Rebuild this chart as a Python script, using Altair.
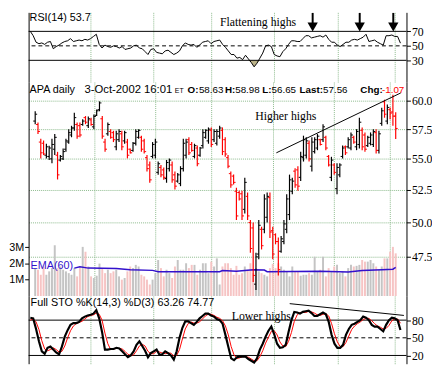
import altair as alt
import pandas as pd

# ---------------- data ----------------
high = [59.06, 58.07, 56.67, 56.53, 56.26, 56.10, 56.67, 57.08, 55.58, 55.31,
        55.85, 56.67, 57.50, 57.79, 58.92, 58.07, 58.07, 58.35, 58.64, 58.60,
        58.49, 58.78, 59.21, 59.94, 58.64, 56.67, 58.07, 57.50, 57.36, 57.36,
        57.50, 57.36, 57.36, 56.67, 55.85, 56.40, 57.50, 57.50, 56.94, 56.67,
        55.31, 54.78, 56.40, 56.67, 54.78, 54.50, 54.30, 54.91, 55.04, 54.78,
        53.98, 53.85, 54.40, 56.67, 56.67, 56.81, 56.40, 56.26, 56.12, 55.99,
        57.50, 57.50, 57.65, 57.65, 57.50, 57.50, 57.79, 57.65, 56.81, 55.31,
        53.98, 53.72, 52.68, 52.43, 52.43, 53.46, 52.30, 50.19, 50.00, 47.80,
        50.19, 49.69, 52.17, 52.30, 52.30, 49.69, 49.20, 48.90, 49.00, 50.19,
        52.17, 53.72, 53.46, 54.24, 54.40, 55.58, 56.94, 56.81, 56.53, 56.81,
        56.81, 57.08, 56.67, 57.93, 56.94, 55.31, 55.17, 54.64, 54.64, 54.64,
        56.12, 56.12, 56.81, 57.22, 56.94, 57.50, 58.49, 57.65, 57.22, 56.94,
        57.22, 57.50, 57.50, 57.36, 59.36, 60.09, 59.65, 59.40, 60.53, 58.98]
low = [57.93, 57.08, 55.04, 55.31, 55.04, 54.90, 54.64, 55.31, 53.33, 54.78,
       54.91, 55.58, 56.26, 56.81, 57.36, 56.67, 56.81, 57.79, 57.93, 57.60,
       57.79, 57.50, 58.64, 59.06, 56.67, 55.58, 56.94, 56.67, 56.40, 55.72,
       56.40, 55.72, 56.26, 55.04, 55.44, 55.58, 56.12, 56.67, 55.58, 55.44,
       53.98, 53.07, 55.04, 55.04, 53.70, 53.50, 53.30, 53.07, 53.98, 53.07,
       52.53, 53.07, 52.80, 53.98, 55.04, 55.31, 55.58, 55.04, 54.40, 55.17,
       55.85, 56.67, 56.26, 55.99, 56.40, 56.12, 56.67, 55.31, 55.17, 54.24,
       52.68, 52.94, 50.19, 51.67, 50.19, 50.68, 50.19, 47.80, 45.75, 45.20,
       47.33, 48.03, 49.21, 50.00, 48.86, 47.33, 48.40, 46.20, 47.80, 48.40,
       49.21, 50.19, 52.17, 52.68, 52.43, 53.20, 54.78, 55.04, 54.78, 53.98,
       55.44, 55.72, 56.12, 56.40, 55.72, 54.37, 53.20, 53.70, 52.17, 53.50,
       55.04, 55.31, 55.85, 55.72, 56.26, 55.72, 55.85, 55.72, 55.58, 55.99,
       56.12, 55.99, 55.44, 55.44, 57.79, 58.49, 57.93, 58.35, 57.79, 56.65]
open_ = [58.2, 57.9, 56.4, 56.3, 55.3, 55.2, 55.0, 55.8, 55.3, 54.9,
         55.0, 55.8, 56.4, 57.0, 57.6, 57.9, 57.8, 57.9, 58.5, 57.8,
         58.3, 57.7, 58.7, 59.2, 58.4, 56.4, 57.1, 57.3, 57.2, 56.0,
         56.6, 57.1, 56.5, 56.4, 55.8, 55.7, 56.3, 56.8, 56.8, 56.5,
         55.1, 54.5, 55.2, 55.3, 53.9, 54.3, 54.1, 53.4, 54.2, 54.5,
         53.7, 53.2, 53.0, 54.2, 55.3, 56.6, 56.2, 55.2, 55.9, 55.3,
         56.1, 56.8, 56.5, 57.4, 56.6, 56.3, 56.9, 57.4, 56.6, 55.1,
         53.8, 53.6, 52.4, 52.3, 52.2, 51.0, 52.0, 50.0, 49.6, 45.6,
         47.7, 49.5, 49.5, 50.4, 51.9, 49.4, 49.1, 48.6, 47.9, 48.6,
         49.5, 50.6, 52.4, 54.0, 54.1, 53.5, 55.1, 55.3, 56.3, 54.4,
         55.6, 55.9, 56.6, 56.6, 56.8, 55.2, 53.5, 54.5, 52.6, 53.7,
         55.2, 56.0, 56.0, 55.9, 56.8, 56.0, 56.2, 57.4, 57.0, 56.1,
         56.3, 56.2, 57.2, 55.7, 58.0, 59.9, 58.2, 59.2, 59.0, 58.63]
close = [58.8, 57.3, 55.5, 55.4, 56.0, 55.9, 56.2, 56.8, 53.7, 55.2,
         55.6, 56.5, 57.2, 57.6, 58.5, 56.9, 57.0, 58.2, 58.1, 58.4,
         57.9, 58.6, 59.1, 59.8, 56.9, 55.8, 57.9, 56.8, 56.6, 57.1,
         57.3, 56.0, 57.2, 55.3, 55.5, 56.3, 57.3, 57.4, 55.8, 55.6,
         54.2, 53.3, 56.2, 56.4, 54.6, 53.7, 53.5, 54.7, 54.9, 53.3,
         52.8, 53.7, 54.2, 56.3, 56.4, 55.5, 55.7, 56.1, 54.6, 55.9,
         57.2, 57.4, 57.5, 56.2, 57.3, 57.3, 57.6, 55.6, 55.4, 54.4,
         52.9, 53.1, 50.5, 51.8, 50.5, 53.1, 50.5, 48.1, 46.2, 47.5,
         49.8, 48.3, 51.8, 52.0, 49.3, 47.7, 48.6, 46.6, 48.8, 49.9,
         51.8, 53.3, 53.2, 52.9, 52.8, 55.2, 56.6, 56.5, 55.0, 56.4,
         56.6, 56.9, 56.2, 57.7, 55.9, 54.5, 54.9, 53.9, 54.3, 54.5,
         55.9, 55.5, 56.6, 57.0, 56.4, 57.3, 58.1, 56.0, 55.8, 56.8,
         57.0, 57.3, 55.7, 57.1, 59.1, 58.8, 59.4, 58.9, 58.63, 57.56]
up = [1, 0, 0, 0, 1, 1, 1, 1, 0, 1,
      1, 1, 1, 1, 1, 0, 0, 1, 0, 1,
      0, 1, 1, 1, 0, 0, 1, 0, 0, 1,
      1, 0, 1, 0, 0, 1, 1, 1, 0, 0,
      0, 0, 1, 1, 1, 0, 0, 1, 1, 0,
      0, 1, 1, 1, 1, 0, 0, 1, 0, 1,
      1, 1, 1, 0, 1, 1, 1, 0, 0, 0,
      0, 0, 0, 0, 0, 1, 0, 0, 0, 1,
      1, 0, 1, 1, 0, 0, 0, 0, 1, 1,
      1, 1, 1, 0, 0, 1, 1, 1, 0, 1,
      1, 1, 0, 1, 0, 0, 1, 0, 1, 1,
      1, 0, 1, 1, 0, 1, 1, 0, 0, 1,
      1, 1, 0, 1, 1, 0, 1, 0, 0, 0]
volume_m = [1.72, 1.62, 1.31, 1.82, 1.31, 1.52, 1.72, 3.13, 1.72, 1.82,
            1.62, 1.52, 1.41, 1.31, 1.72, 1.21, 1.72, 3.03, 2.73, 1.82,
            1.21, 1.11, 1.25, 2.00, 1.72, 1.41, 1.62, 1.41, 1.52, 1.62,
            1.21, 1.01, 1.11, 1.52, 1.82, 1.72, 1.92, 1.82, 1.31, 1.21,
            1.01, 0.71, 1.01, 1.41, 2.22, 1.72, 1.21, 1.62, 1.41, 1.11,
            1.82, 2.22, 1.62, 1.62, 2.02, 1.72, 1.92, 1.92, 1.31, 1.62,
            2.02, 2.02, 1.41, 2.12, 1.82, 2.32, 0.71, 1.82, 2.02, 2.02,
            1.72, 1.31, 1.86, 1.31, 1.41, 1.82, 1.62, 2.02, 1.41, 1.72,
            1.52, 1.41, 1.31, 1.21, 1.72, 1.98, 1.72, 2.02, 1.82, 1.62,
            1.52, 1.21, 1.82, 1.52, 1.52, 1.25, 1.31, 1.31, 1.41, 1.31,
            2.42, 1.52, 1.62, 2.42, 1.21, 1.72, 1.52, 1.82, 1.92, 1.41,
            1.52, 1.21, 1.72, 1.92, 1.82, 1.86, 1.92, 2.22, 2.12, 2.12,
            2.22, 2.02, 1.82, 1.62, 1.82, 2.32, 2.32, 2.73, 3.03, 2.63]
rsi = [70, 64, 55, 53, 54, 52, 55, 56, 46, 49,
       51, 54, 56, 57, 60, 56, 57, 58, 57, 59,
       58, 60, 63, 66, 52, 47, 51, 49, 48, 50,
       49, 47, 49, 45, 46, 47, 50, 51, 47, 46,
       42, 38, 45, 46, 41, 40, 39, 43, 44, 41,
       38, 40, 43, 50, 54, 52, 51, 52, 48, 51,
       55, 56, 57, 53, 56, 57, 58, 52, 48, 43,
       38, 38, 33, 34, 31, 37, 32, 27, 21, 26,
       33, 40, 50, 51, 49, 38, 36, 35, 42, 46,
       52, 57, 57, 56, 56, 60, 64, 64, 61, 62,
       63, 64, 62, 65, 59, 55, 55, 51, 49, 52,
       55, 55, 58, 59, 58, 60, 62, 66, 56, 57,
       58, 55, 53, 51, 64, 64, 65, 63, 63, 53.7]
stoch_k = [84, 83, 65, 44, 27, 23, 33, 35, 30, 25,
           22, 35, 52, 63, 72, 75, 75, 77, 83, 86,
           88, 89, 91, 97, 83, 60, 30, 30, 31, 31,
           33, 32, 27, 22, 17, 20, 27, 38, 44, 36,
           28, 17, 24, 27, 30, 21, 22, 27, 24, 20,
           13, 27, 50, 67, 78, 78, 75, 72, 77, 83,
           87, 91, 91, 88, 86, 82, 80, 74, 55, 35,
           15, 12, 17, 18, 18, 18, 14, 11, 8, 15,
           30, 40, 52, 62, 69, 56, 40, 33, 34, 38,
           60, 80, 94, 93, 91, 94, 95, 96, 92, 87,
           87, 90, 93, 90, 77, 55, 40, 33, 33, 38,
           55, 65, 72, 74, 77, 80, 86, 84, 80, 72,
           69, 69, 65, 61, 72, 80, 84, 83, 80, 63.26]
stoch_d = [80, 82, 77, 64, 45, 31, 28, 30, 33, 30,
           26, 27, 36, 50, 62, 70, 74, 76, 78, 82,
           86, 88, 89, 92, 90, 80, 58, 40, 30, 31,
           32, 32, 31, 27, 22, 20, 21, 28, 36, 39,
           36, 27, 23, 23, 27, 26, 24, 23, 24, 24,
           19, 20, 30, 48, 65, 74, 77, 75, 75, 77,
           82, 87, 90, 90, 88, 85, 83, 79, 70, 55,
           35, 21, 15, 16, 18, 18, 17, 14, 11, 11,
           18, 28, 41, 51, 61, 62, 55, 43, 36, 35,
           44, 59, 78, 89, 93, 93, 93, 95, 94, 92,
           89, 88, 90, 91, 87, 74, 57, 43, 35, 35,
           42, 53, 64, 70, 74, 77, 81, 83, 83, 79,
           74, 70, 68, 65, 66, 71, 79, 82, 82, 74.77]
ema_bar = [14, 16, 19, 29, 34, 42, 44, 66, 67, 72, 78, 82, 83, 102, 112, 117, 124, 128, 129]
ema_vol_m = [1.72, 1.80, 1.72, 1.70, 1.62, 1.58, 1.50, 1.50, 1.57, 1.53, 1.62, 1.60,
             1.50, 1.52, 1.48, 1.57, 1.62, 1.65, 1.76]
month_start_bars = [21, 43, 63, 85, 107, 127]
price_ticks = [47.5, 50.0, 52.5, 55.0, 57.5, 60.0]
vol_ticks_m = [1, 2, 3]
rsi_levels = [70, 50, 30]
sto_levels = [80, 50, 20]
higher_highs_bar = [86.3, 130.8]
higher_highs_price = [55.5, 60.7]
lower_highs_bar = [90.4, 130.2]
lower_highs_val = [108, 88]
arrow_bars = [98.4, 114.8, 126.5]

# ---------------- tables ----------------
n = len(high)
bars = pd.DataFrame({"i": list(range(n)), "high": high, "low": low, "open": open_,
                     "close": close, "up": up, "vol": volume_m, "rsi": rsi,
                     "k": stoch_k, "d": stoch_d})
bars["rsi_low"] = bars["rsi"].clip(upper=30)
ema_df = pd.DataFrame({"i": ema_bar, "v": ema_vol_m})
hh_df = pd.DataFrame({"i": higher_highs_bar, "p": higher_highs_price})
lh_df = pd.DataFrame({"i": lower_highs_bar, "v": lower_highs_val})
arrow_df = pd.DataFrame({"i": arrow_bars})

W = 385
H_RSI, H_PRICE, H_STO = 71, 218, 69
GRID = "#8dbb8d"
SERIF = "Liberation Serif"
SANS = "Liberation Sans"
BLUE = "#3311cc"

XS = alt.Scale(domain=[-0.6, 131.1], nice=False, zero=False)
RSI_S = alt.Scale(domain=[0, 96.3], nice=False, zero=False)
PRICE_S = alt.Scale(type="log", domain=[44.8, 61.7], nice=False)
VOL_S = alt.Scale(domain=[0, 13.2], nice=False, zero=True)
STO_S = alt.Scale(domain=[6, 121], nice=False, zero=False)

grid_x = alt.Axis(values=month_start_bars, grid=True, gridColor=GRID, gridDash=[1, 1],
                  gridOpacity=1, labels=False, ticks=False, domain=False, title=None)

IND = dict(x="independent", y="independent")


def xq(field="i", axis=None):
    return alt.X(f"{field}:Q", scale=XS, axis=axis)


def right_axis(vals, **kw):
    return alt.Axis(orient="right", values=vals, tickSize=4, tickColor="black",
                    domainColor="black", labelFont=SERIF, labelFontSize=12,
                    labelColor="black", labelPadding=1, title=None, **kw)


left_plain = alt.Axis(orient="left", values=[0], labels=False, ticks=False, domain=True,
                      domainColor="black", grid=False, title=None)


def label(txt, x, y, size=11, font=SANS, color="black", weight="normal"):
    return alt.Chart(pd.DataFrame({"t": [txt]})).mark_text(
        align="left", baseline="alphabetic", font=font, fontSize=size,
        fontWeight=weight, color=color).encode(x=alt.value(x), y=alt.value(y), text="t:N")


bar_color = alt.condition("datum.up == 1", alt.value("black"), alt.value("#ff0000"))

# ---------------- RSI panel ----------------
rsi_fill = alt.Chart(bars).mark_area(color="#bcb48a").encode(
    x=xq(axis=grid_x),
    y=alt.Y("rsi_low:Q", scale=RSI_S, axis=right_axis(rsi_levels, grid=False)),
    y2=alt.Y2Datum(30))
rsi_solid = alt.Chart(pd.DataFrame({"lvl": [rsi_levels[0], rsi_levels[2]]})).mark_rule(
    color="black", strokeWidth=1).encode(y=alt.Y("lvl:Q", scale=RSI_S, axis=left_plain))
rsi_dash = alt.Chart(pd.DataFrame({"lvl": [rsi_levels[1]]})).mark_rule(
    color="black", strokeWidth=1, strokeDash=[4, 3]).encode(
    y=alt.Y("lvl:Q", scale=RSI_S, axis=None))
rsi_line = alt.Chart(bars).mark_line(color="black", strokeWidth=1).encode(
    x=xq(), y=alt.Y("rsi:Q", scale=RSI_S, axis=None))
arrow_shaft = alt.Chart(arrow_df).mark_rule(color="black", strokeWidth=2).encode(
    x=xq(), y=alt.YDatum(95.5, scale=RSI_S, axis=None), y2=alt.Y2Datum(80))
arrow_head = alt.Chart(arrow_df).mark_point(
    shape="triangle-down", filled=True, color="black", size=110, opacity=1).encode(
    x=xq(), y=alt.YDatum(76, scale=RSI_S, axis=None))

rsi_panel = alt.layer(
    rsi_fill, rsi_solid, rsi_dash, rsi_line, arrow_shaft, arrow_head,
    label("RSI(14) 53.7", 1, 9),
    label("Flattening highs", 195, 14, size=12, font=SERIF),
).resolve_axis(**IND).properties(width=W, height=H_RSI)

# ---------------- price + volume panel ----------------
vol_axis = alt.Axis(orient="left", values=vol_ticks_m, labelExpr="datum.value + 'M'",
                    tickSize=4, tickColor="black", domainColor="black", grid=False,
                    labelFont=SANS, labelFontSize=11, labelColor="black",
                    labelPadding=1, title=None)
vol_bars = alt.Chart(bars).mark_bar(width=2).encode(
    x=xq(axis=grid_x),
    y=alt.Y("vol:Q", scale=VOL_S, axis=vol_axis),
    color=alt.condition("datum.up == 1", alt.value("#c4c4c4"), alt.value("#f6c4c4")))
ema_line = alt.Chart(ema_df).mark_line(color=BLUE, strokeWidth=1.5).encode(
    x=xq(), y=alt.Y("v:Q", scale=VOL_S, axis=None))
vol_layer = alt.layer(vol_bars, ema_line, label("EMA(60)", 2, 190, color=BLUE)
                      ).resolve_axis(**IND)

hl = alt.Chart(bars).mark_rule(strokeWidth=1.2).encode(
    x=xq(),
    y=alt.Y("high:Q", scale=PRICE_S,
            axis=right_axis(price_ticks, format=".1f", grid=True, gridColor=GRID,
                            gridDash=[1, 1], gridOpacity=1)),
    y2="low:Q", color=bar_color)
op_tick = alt.Chart(bars).mark_rule(strokeWidth=1, xOffset=-2, x2Offset=0).encode(
    x=xq(), x2="i:Q", y=alt.Y("open:Q", scale=PRICE_S, axis=None), color=bar_color)
cl_tick = alt.Chart(bars).mark_rule(strokeWidth=1, xOffset=0, x2Offset=2).encode(
    x=xq(), x2="i:Q", y=alt.Y("close:Q", scale=PRICE_S, axis=None), color=bar_color)
hh_line = alt.Chart(hh_df).mark_line(color="black", strokeWidth=1).encode(
    x=xq(), y=alt.Y("p:Q", scale=PRICE_S, axis=None))

HY = 11
price_layer = alt.layer(
    hl, op_tick, cl_tick, hh_line,
    label("APA daily", 1, HY),
    label("3-Oct-2002 16:01", 57, HY, size=11.5),
    label("ET", 149, HY, size=7),
    label("O:", 162, HY, size=10, weight="bold"), label("58.63", 173.5, HY, size=10),
    label("H:", 200, HY, size=10, weight="bold"), label("58.98", 210.5, HY, size=10),
    label("L:", 238, HY, size=10, weight="bold"), label("56.65", 247.5, HY, size=10),
    label("Last:", 276, HY, size=10, weight="bold"), label("57.56", 300, HY, size=10),
    label("Chg:", 338, HY, size=10, weight="bold"),
    label("-1.07", 360, HY, size=10, color="#ff0000"),
    label("Higher highs", 231, 39, size=12, font=SERIF),
).resolve_axis(**IND)
price_panel = alt.layer(vol_layer, price_layer).resolve_scale(y="independent").resolve_axis(
    **IND).properties(width=W, height=H_PRICE)

# ---------------- stochastic panel ----------------
sto_solid = alt.Chart(pd.DataFrame({"lvl": [sto_levels[0], sto_levels[2]]})).mark_rule(
    color="black", strokeWidth=1).encode(y=alt.Y("lvl:Q", scale=STO_S, axis=left_plain))
sto_dash = alt.Chart(pd.DataFrame({"lvl": [sto_levels[1]]})).mark_rule(
    color="black", strokeWidth=1, strokeDash=[4, 3]).encode(
    y=alt.Y("lvl:Q", scale=STO_S, axis=None))
sto_d = alt.Chart(bars).mark_line(color="#ff0000", strokeWidth=1).encode(
    x=xq(axis=grid_x), y=alt.Y("d:Q", scale=STO_S, axis=right_axis(sto_levels, grid=False)))
sto_k = alt.Chart(bars).mark_line(color="black", strokeWidth=2.2).encode(
    x=xq(), y=alt.Y("k:Q", scale=STO_S, axis=None))
lh_line = alt.Chart(lh_df).mark_line(color="black", strokeWidth=1).encode(
    x=xq(), y=alt.Y("v:Q", scale=STO_S, axis=None))

sto_panel = alt.layer(
    sto_solid, sto_dash, sto_d, sto_k, lh_line,
    label("Full STO %K(14,3) %D(3) 63.26  74.77", 2, 10, size=11),
    label("Lower highs", 207, 24, size=12, font=SERIF),
).resolve_axis(**IND).properties(width=W, height=H_STO)

chart = alt.vconcat(rsi_panel, price_panel, sto_panel, spacing=0).properties(
    padding={"left": 0, "top": 0, "right": 0, "bottom": 0}
).configure_view(stroke=None)

chart.save("out.html", embed_options={"renderer": "svg", "actions": False})
